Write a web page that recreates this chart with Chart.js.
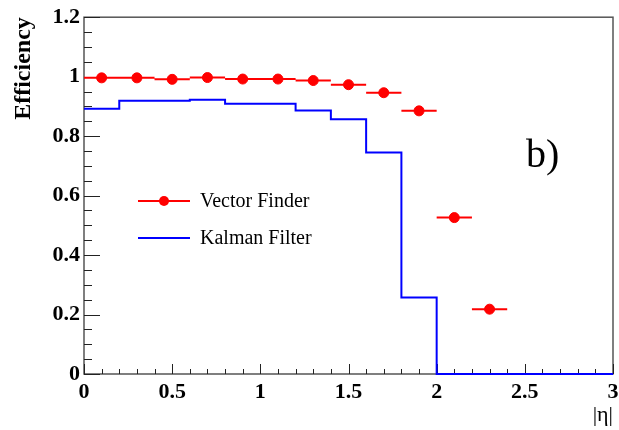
<!DOCTYPE html>
<html>
<head>
<meta charset="utf-8">
<script src="https://cdn.jsdelivr.net/npm/chart.js@4"></script>
<style>
  html, body { margin: 0; padding: 0; background: #fff; }
  #wrap { width: 619px; height: 430px; }
</style>
</head>
<body>
<div id="wrap"><canvas id="chart" width="619" height="430"></canvas></div>
<script>
// |eta| bin centres and efficiency for the Vector Finder (points with x error of half a bin)
let vectorX = [0.1, 0.3, 0.5, 0.7, 0.9, 1.1, 1.3, 1.5, 1.7, 1.9, 2.1, 2.3];
let vectorY = [0.996, 0.996, 0.991, 0.997, 0.992, 0.992, 0.987, 0.973, 0.946, 0.885, 0.526, 0.218];
let halfBin = 0.1;

// Kalman Filter histogram: left bin edges and contents (last edge closes the histogram)
let kalmanEdges = [0, 0.2, 0.4, 0.6, 0.8, 1.0, 1.2, 1.4, 1.6, 1.8, 2.0, 2.2, 2.4, 2.6, 2.8, 3.0];
let kalmanY = [0.892, 0.919, 0.919, 0.922, 0.909, 0.909, 0.886, 0.857, 0.745, 0.257, 0, 0, 0, 0, 0, 0];

let xTicks = [0, 0.5, 1, 1.5, 2, 2.5, 3];
let xTickLabels = ['0', '0.5', '1', '1.5', '2', '2.5', '3'];
let yTicks = [0, 0.2, 0.4, 0.6, 0.8, 1, 1.2];
let yTickLabels = ['0', '0.2', '0.4', '0.6', '0.8', '1', '1.2'];

let serif = '"Liberation Serif", "DejaVu Serif", serif';

// ROOT style frame + inward ticks
let framePlugin = {
    id: 'frame',
    beforeDatasetsDraw(chart) {
        let ctx = chart.ctx;
        let a = chart.chartArea;
        let xs = chart.scales.x;
        let ys = chart.scales.y;
        ctx.save();
        ctx.strokeStyle = '#555';
        ctx.lineWidth = 1.5;
        ctx.strokeRect(a.left, a.top, a.right - a.left, a.bottom - a.top);
        ctx.strokeStyle = '#222';
        ctx.lineWidth = 1;
        ctx.beginPath();
        for (let i = 0; i <= 30; i++) {
            let v = i * 0.1;
            let px = Math.round(xs.getPixelForValue(v)) + 0.5;
            let len = (i % 5 === 0) ? 10 : 5;
            ctx.moveTo(px, a.bottom);
            ctx.lineTo(px, a.bottom - len);
        }
        for (let i = 0; i <= 24; i++) {
            let v = i * 0.05;
            let py = Math.round(ys.getPixelForValue(v)) + 0.5;
            let len = (i % 4 === 0) ? 16 : 8;
            ctx.moveTo(a.left, py);
            ctx.lineTo(a.left + len, py);
        }
        ctx.stroke();
        ctx.restore();
    }
};

// horizontal error bars of the Vector Finder points
let errorBarPlugin = {
    id: 'errorBars',
    beforeDatasetsDraw(chart) {
        let ctx = chart.ctx;
        let xs = chart.scales.x;
        let ys = chart.scales.y;
        ctx.save();
        ctx.strokeStyle = '#ff0000';
        ctx.lineWidth = 2;
        ctx.beginPath();
        vectorX.forEach((x, i) => {
            let py = ys.getPixelForValue(vectorY[i]);
            ctx.moveTo(xs.getPixelForValue(x - halfBin), py);
            ctx.lineTo(xs.getPixelForValue(x + halfBin), py);
        });
        ctx.stroke();
        ctx.restore();
    }
};

// legend box and panel label inside the frame
let labelPlugin = {
    id: 'labels',
    afterDraw(chart) {
        let ctx = chart.ctx;
        let ds = chart.data.datasets;
        ctx.save();
        ctx.lineWidth = 2;
        // Vector Finder entry
        ctx.strokeStyle = '#ff0000';
        ctx.beginPath();
        ctx.moveTo(138, 201);
        ctx.lineTo(190, 201);
        ctx.stroke();
        ctx.fillStyle = '#ff0000';
        ctx.beginPath();
        ctx.arc(164, 201, 5, 0, Math.PI * 2);
        ctx.fill();
        // Kalman Filter entry
        ctx.strokeStyle = '#0000ff';
        ctx.beginPath();
        ctx.moveTo(138, 238);
        ctx.lineTo(190, 238);
        ctx.stroke();

        ctx.fillStyle = '#000';
        ctx.font = '20px ' + serif;
        ctx.textAlign = 'left';
        ctx.textBaseline = 'middle';
        ctx.fillText(ds[0].label, 200, 202);
        ctx.fillText(ds[1].label, 200, 239);

        ctx.font = '40px ' + serif;
        ctx.textBaseline = 'alphabetic';
        ctx.fillText('b)', 526, 167);
        ctx.restore();
    }
};

let vectorPoints = vectorX.map((x, i) => ({ x: x, y: vectorY[i] }));
let kalmanPoints = kalmanEdges.map((x, i) => ({ x: x, y: kalmanY[i] }));

let chart = new Chart(document.getElementById('chart'), {
    type: 'scatter',
    data: {
        datasets: [{
            label: 'Vector Finder',
            data: vectorPoints,
            backgroundColor: '#ff0000',
            borderColor: '#ff0000',
            pointRadius: 5,
            pointHoverRadius: 5,
            showLine: false
        }, {
            label: 'Kalman Filter',
            type: 'line',
            data: kalmanPoints,
            borderColor: '#0000ff',
            borderWidth: 2,
            pointRadius: 0,
            stepped: true,
            fill: false,
            clip: 3
        }]
    },
    options: {
        responsive: false,
        animation: false,
        layout: { padding: { top: 16.5, right: 5, left: 0, bottom: 0 } },
        plugins: {
            legend: { display: false },
            tooltip: { enabled: false }
        },
        scales: {
            x: {
                type: 'linear',
                min: 0,
                max: 3,
                grid: { display: false, drawTicks: false },
                border: { display: false },
                afterBuildTicks: s => { s.ticks = xTicks.map(v => ({ value: v })); },
                afterFit: s => { s.height = 56; s.paddingLeft = 0; s.paddingRight = 0; },
                ticks: {
                    color: '#000',
                    padding: 5,
                    maxRotation: 0,
                    callback: (v, i) => xTickLabels[i],
                    font: { family: serif, size: 22, weight: 'bold' }
                },
                title: {
                    display: true,
                    text: '|η|',
                    align: 'end',
                    color: '#000',
                    padding: { top: 0, bottom: 2 },
                    font: { family: serif, size: 22 }
                }
            },
            y: {
                min: 0,
                max: 1.2,
                grid: { display: false, drawTicks: false },
                border: { display: false },
                afterBuildTicks: s => { s.ticks = yTicks.map(v => ({ value: v })); },
                afterFit: s => { s.width = 84; },
                ticks: {
                    color: '#000',
                    padding: 4,
                    callback: (v, i) => yTickLabels[i],
                    font: { family: serif, size: 22, weight: 'bold' }
                },
                title: {
                    display: true,
                    text: 'Efficiency',
                    align: 'end',
                    color: '#000',
                    padding: { top: 9, bottom: 0 },
                    font: { family: serif, size: 24, weight: 'bold' }
                }
            }
        }
    },
    plugins: [framePlugin, errorBarPlugin, labelPlugin]
});
</script>
</body>
</html>
